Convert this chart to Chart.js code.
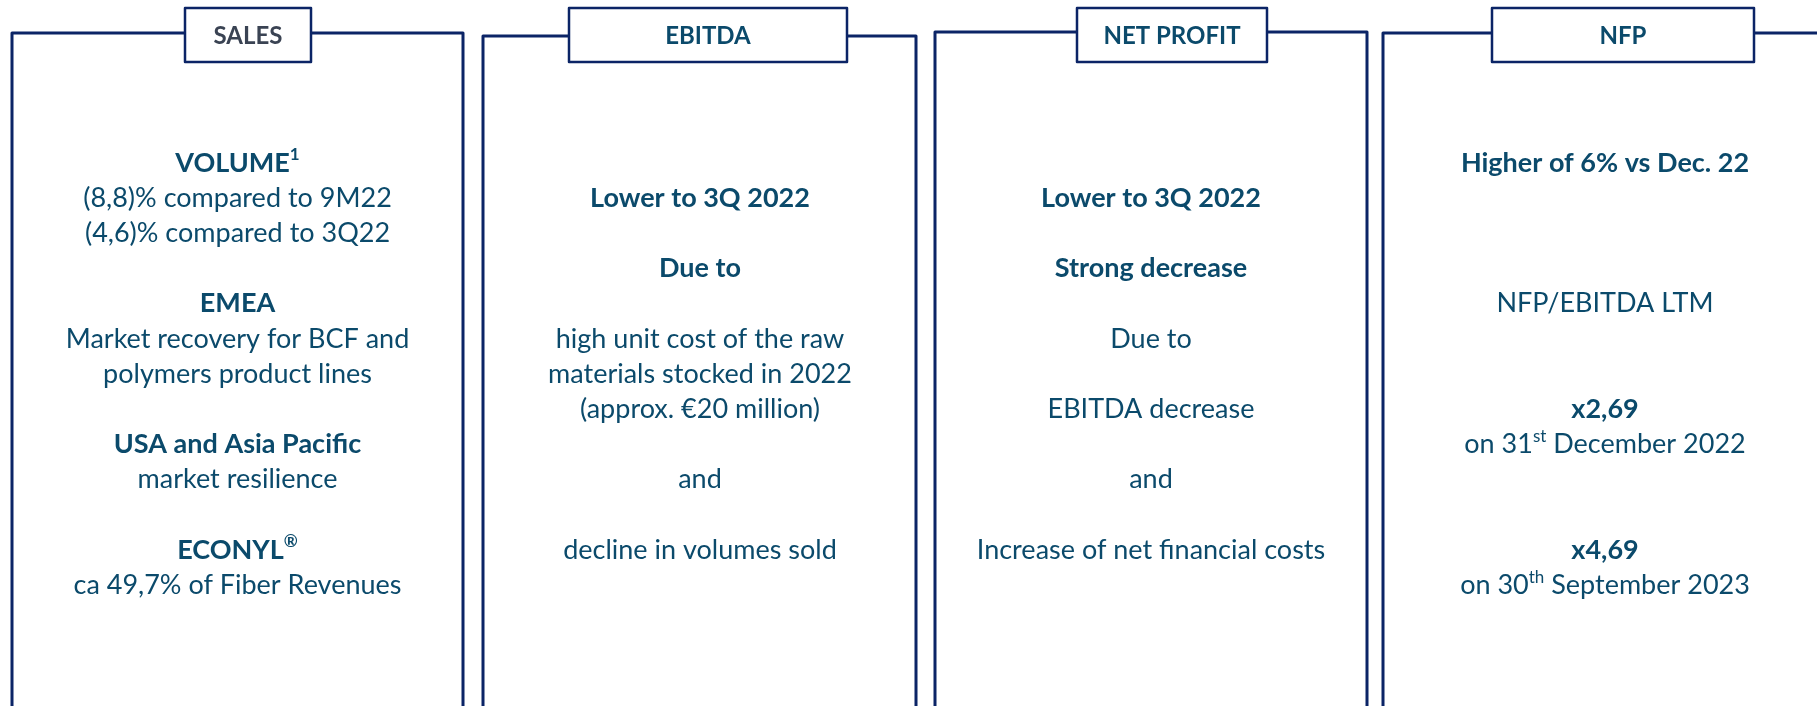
<!DOCTYPE html>
<html>
<head>
<meta charset="utf-8">
<title>9M 2023 highlights</title>
<script src="https://cdn.jsdelivr.net/npm/chart.js@4.4.0/dist/chart.umd.min.js"></script>
<style>
  html, body { margin: 0; padding: 0; background: #fff; }
  #chart { display: block; }
</style>
</head>
<body>
<canvas id="chart" width="1817" height="706"></canvas>
<script>
// titles of the four boxes
const panelTitles = ['SALES', 'EBITDA', 'NET PROFIT', 'NFP'];

// box texts: '' = empty line, '*' in front = bold line, ^{..} = superscript
const salesLines = [
  '*VOLUME^{1}', '(8,8)% compared to 9M22', '(4,6)% compared to 3Q22', '',
  '*EMEA', 'Market recovery for BCF and', 'polymers product lines', '',
  '*USA and Asia Pacific', 'market resilience', '',
  '*ECONYL^{®}', 'ca 49,7% of Fiber Revenues'
];
const ebitdaLines = [
  '*Lower to 3Q 2022', '', '*Due to', '',
  'high unit cost of the raw', 'materials stocked in 2022', '(approx. €20 million)', '',
  'and', '', 'decline in volumes sold'
];
const netProfitLines = [
  '*Lower to 3Q 2022', '', '*Strong decrease', '', 'Due to', '',
  'EBITDA decrease', '', 'and', '', 'Increase of net financial costs'
];
const nfpLines = [
  '*Higher of 6% vs Dec. 22', '', '', '', 'NFP/EBITDA LTM', '', '',
  '*x2,69', 'on 31^{st} December 2022', '', '',
  '*x4,69', 'on 30^{th} September 2023'
];

const panelTexts = [salesLines, ebitdaLines, netProfitLines, nfpLines];

// layout of the frames (pixels)
const frames = [
  { left: 12,   right: 463,  top: 33, hx0: 185,  hx1: 311,  tx: 237.5 },
  { left: 483,  right: 916,  top: 36, hx0: 569,  hx1: 847,  tx: 700 },
  { left: 935,  right: 1367, top: 32, hx0: 1077, hx1: 1267, tx: 1151 },
  { left: 1383, right: 1830, top: 33, hx0: 1492, hx1: 1754, tx: 1605 }
];
const headTop = 8, headBottom = 62;
const frameColor = '#0b2466';
const textColor = '#0b4a6b';
const titleColors = ['#3a4353', textColor, textColor, textColor];
const fontFam = 'Lato, "Noto Sans", sans-serif';
const bodySize = 27, titleSize = 24, lineH = 35.2, blockMid = 374;

function splitSegments(line) {
  const out = [];
  const re = /\^\{([^}]*)\}/g;
  let last = 0, m;
  while ((m = re.exec(line)) !== null) {
    if (m.index > last) out.push({ t: line.slice(last, m.index), sup: false });
    out.push({ t: m[1], sup: true });
    last = re.lastIndex;
  }
  if (last < line.length) out.push({ t: line.slice(last), sup: false });
  return out;
}

function drawLine(ctx, line, cx, cy) {
  let bold = false;
  if (line.startsWith('*')) { bold = true; line = line.slice(1); }
  const segs = splitSegments(line);
  const w = bold ? 'bold ' : '';
  const fontMain = w + bodySize + 'px ' + fontFam;
  const fontSup = w + Math.round(bodySize * 0.62) + 'px ' + fontFam;
  let total = 0;
  segs.forEach(s => {
    ctx.font = s.sup ? fontSup : fontMain;
    s.w = ctx.measureText(s.t).width;
    total += s.w;
  });
  let x = cx - total / 2;
  ctx.textAlign = 'left';
  ctx.textBaseline = 'middle';
  segs.forEach(s => {
    ctx.font = s.sup ? fontSup : fontMain;
    ctx.fillText(s.t, x, s.sup ? cy - bodySize * 0.3 : cy);
    x += s.w;
  });
}

const panelsPlugin = {
  id: 'panels',
  afterDraw(chart) {
    const ctx = chart.ctx;
    const bottom = chart.height + 5;
    ctx.save();
    frames.forEach((f, i) => {
      // frame
      ctx.strokeStyle = frameColor;
      ctx.lineWidth = 3;
      ctx.lineJoin = 'round';
      ctx.beginPath();
      ctx.moveTo(f.left, bottom);
      ctx.lineTo(f.left, f.top);
      ctx.lineTo(f.hx0, f.top);
      ctx.moveTo(f.hx1, f.top);
      ctx.lineTo(f.right, f.top);
      ctx.lineTo(f.right, bottom);
      ctx.stroke();
      // title box
      ctx.fillStyle = '#fff';
      ctx.fillRect(f.hx0, headTop, f.hx1 - f.hx0, headBottom - headTop);
      ctx.lineWidth = 2.5;
      ctx.strokeRect(f.hx0, headTop, f.hx1 - f.hx0, headBottom - headTop);
      ctx.fillStyle = titleColors[i];
      ctx.font = 'bold ' + titleSize + 'px ' + fontFam;
      ctx.textAlign = 'center';
      ctx.textBaseline = 'middle';
      ctx.fillText(panelTitles[i], (f.hx0 + f.hx1) / 2, (headTop + headBottom) / 2 + 1);
      // text block, centred on the same middle line in every box
      const lines = panelTexts[i];
      const y0 = blockMid - (lines.length - 1) / 2 * lineH;
      ctx.fillStyle = textColor;
      lines.forEach((ln, k) => {
        if (ln) drawLine(ctx, ln, f.tx, y0 + k * lineH);
      });
    });
    ctx.restore();
  }
};

const ctx = document.getElementById('chart').getContext('2d');
const myChart = new Chart(ctx, {
  type: 'bar',
  data: { labels: panelTitles, datasets: [] },
  options: {
    responsive: false,
    animation: false,
    layout: { padding: 0 },
    plugins: { legend: { display: false }, tooltip: { enabled: false } },
    scales: { x: { display: false }, y: { display: false } }
  },
  plugins: [panelsPlugin]
});
</script>
</body>
</html>
